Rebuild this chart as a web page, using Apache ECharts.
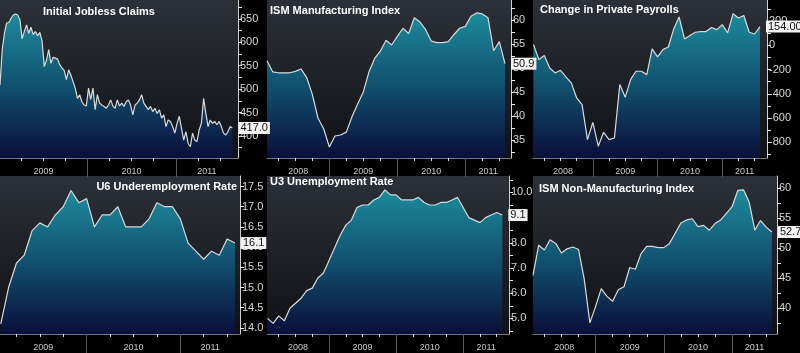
<!DOCTYPE html>
<html>
<head>
<meta charset="utf-8">
<script src="https://cdn.jsdelivr.net/npm/echarts@6/dist/echarts.min.js"></script>
<style>
html,body{margin:0;padding:0;background:#000}
#main{width:800px;height:353px}
</style>
</head>
<body>
<div id="main"></div>
<script>
// x positions are months counted from 1 Jan 2008, a monthly print sits at its month end
var claims = [509,584,619,641,642,651,658,660,658,648,607,623,637,619,632,616,623,614,621,603,
  548,562,584,555,568,566,564,552,545,540,520,541,530,516,502,480,488,473,466,464,
  502,478,502,456,488,470,466,463,459,466,477,464,459,477,464,470,463,473,477,466,
  445,466,470,477,488,470,463,456,463,452,459,448,456,438,445,420,434,431,420,406,
  427,442,416,391,409,384,377,406,391,388,413,427,480,448,420,434,427,431,424,431,
  420,406,402,409,420,417]
var claimsFrom = 12.18, claimsTo = 43.67 // weekly, early Jan 2009 .. Aug 2011

// Jan 2008 .. Jul 2011
var ismMfg = [51.5,49.2,49.0,49.0,49.0,49.3,49.8,48.0,44.5,39.5,37.3,33.5,
  35.8,36.0,36.6,39.8,42.5,45.0,49.2,52.0,53.5,55.8,54.8,56.6,
  58.3,57.2,60.5,59.6,58.0,55.6,55.3,55.3,55.5,57.0,58.3,58.7,
  60.8,61.5,61.3,60.5,53.6,55.5,50.9]
var payrolls = [5,-118,-85,-187,-228,-206,-260,-310,-434,-489,-777,-635,
  -832,-717,-777,-764,-324,-429,-283,-214,-214,-242,-30,-96,
  -36,-14,135,233,52,80,107,113,113,146,129,170,
  102,261,225,245,107,93,154]
// Jan 2009 .. Jul 2011
var u6 = [14.1,15.0,15.6,15.8,16.4,16.6,16.5,16.8,17.0,17.4,17.1,17.2,
  16.5,16.8,16.8,17.0,16.5,16.5,16.5,16.7,17.1,17.0,17.0,16.7,
  16.1,15.9,15.7,15.9,15.8,16.2,16.1]
// Jan 2008 .. Jul 2011
var u3 = [5.0,4.8,5.1,4.9,5.4,5.6,5.8,6.1,6.2,6.6,6.8,7.3,
  7.8,8.3,8.7,8.9,9.4,9.5,9.5,9.7,9.8,10.1,9.9,9.9,
  9.7,9.7,9.7,9.8,9.6,9.5,9.5,9.6,9.6,9.7,9.8,9.4,
  9.0,8.9,8.8,9.0,9.1,9.2,9.1]
var ismNonMfg = [45.5,50.5,49.7,51.4,50.8,49.2,49.9,50.2,49.8,44.9,37.6,40.3,
  43.3,42.0,41.2,43.1,43.6,46.8,46.5,49.1,50.3,50.3,50.1,50.1,
  50.8,52.5,54.2,54.7,54.9,53.6,53.8,53.0,54.1,54.7,55.8,56.9,
  59.6,59.7,57.7,53.0,54.6,53.5,52.7]

var titles = ['Initial Jobless Claims', 'ISM Manufacturing Index', 'Change in Private Payrolls',
  'U6 Underemployment Rate', 'U3 Unemployment Rate', 'ISM Non-Manufacturing Index']

// y tick labels (major) and in-between ticks
var ticks1 = [400,450,500,550,600,650], minor1 = [375,425,475,525,575,625,675]
var ticks2 = [35,40,45,50,55,60], minor2 = [32.5,37.5,42.5,47.5,52.5,57.5,62.5]
var ticks3 = [-800,-600,-400,-200,0,200], minor3 = [-900,-700,-500,-300,-100,100,300]
var ticks4 = [14.0,14.5,15.0,15.5,16.0,16.5,17.0,17.5], minor4 = []
var ticks5 = [5,6,7,8,9,10], minor5 = [4.5,5.5,6.5,7.5,8.5,9.5,10.5]
var ticks6 = [40,45,50,55,60], minor6 = [37.5,42.5,47.5,52.5,57.5,62.5]

function monthly(arr, first) {
  return arr.map(function (v, i) { return [first + i, v] })
}
function spread(arr, a, b) {
  var step = (b - a) / (arr.length - 1)
  return arr.map(function (v, i) { return [a + i * step, v] })
}

var panels = [
  {data: spread(claims, claimsFrom, claimsTo), ticks: ticks1, minor: minor1, dec: 0, endDec: 1,
   grid: {left: 0, top: 0, width: 238, height: 158}, x: [12.18, 44.43], y: [353, 690],
   title: {left: 43, top: 6}},
  {data: monthly(ismMfg, 1), ticks: ticks2, minor: minor2, dec: 0, endDec: 1,
   grid: {left: 267, top: 0, width: 244, height: 158}, x: [1, 44.06], y: [31.2, 64.2],
   title: {left: 270, top: 5}},
  {data: monthly(payrolls, 1), ticks: ticks3, minor: minor3, dec: 0, endDec: 2,
   grid: {left: 533, top: 0, width: 234, height: 158}, x: [0.9, 44.3], y: [-929, 373],
   title: {left: 540, top: 4}},
  {data: monthly(u6, 13), ticks: ticks4, minor: minor4, dec: 1, endDec: 1,
   grid: {left: 0, top: 176, width: 240, height: 158}, x: [12.9, 43.65], y: [13.85, 17.76],
   title: {right: 563, top: 181}},
  {data: monthly(u3, 1), ticks: ticks5, minor: minor5, dec: 1, endDec: 1,
   grid: {left: 267, top: 176, width: 242, height: 158}, x: [0.9, 44.2], y: [4.38, 10.65],
   title: {left: 270, top: 176}},
  {data: monthly(ismNonMfg, 1), ticks: ticks6, minor: minor6, dec: 0, endDec: 1,
   grid: {left: 533, top: 176, width: 244, height: 158}, x: [1.0, 43.9], y: [35.75, 62.0],
   title: {left: 539, top: 183}}
]

var plotBg = new echarts.graphic.LinearGradient(0, 0, 0, 1, [
  {offset: 0, color: '#2c3038'}, {offset: 1, color: '#0f1115'}])
var fill = new echarts.graphic.LinearGradient(0, 0, 0, 1, [
  {offset: 0, color: '#1d8b9c'}, {offset: 0.5, color: '#11506f'}, {offset: 1, color: '#0a0e3a'}])

var option = {backgroundColor: '#000', animation: false, title: [], grid: [], xAxis: [], yAxis: [], series: []}

panels.forEach(function (p, i) {
  var t = {text: titles[i], top: p.title.top, padding: 0,
    textStyle: {color: '#fff', fontSize: 11, fontWeight: 'bold', fontFamily: 'Liberation Sans, Arial'}}
  if (p.title.left != null) t.left = p.title.left; else t.right = p.title.right
  option.title.push(t)

  option.grid.push(Object.assign({show: true, backgroundColor: plotBg, borderWidth: 0,
    containLabel: false, outerBoundsMode: 'none'}, p.grid))

  // year centres of the visible part, year starts and quarter starts
  var centres = [], starts = [], quarters = []
  for (var y = 0; y < 4; y++) {
    var a = Math.max(p.x[0], y * 12), b = Math.min(p.x[1], y * 12 + 12)
    if (b - a > 2) centres.push((a + b) / 2)
    if (y * 12 > p.x[0] && y * 12 < p.x[1]) starts.push(y * 12)
    for (var q = 3; q < 12; q += 3) {
      if (y * 12 + q > p.x[0] && y * 12 + q < p.x[1]) quarters.push(y * 12 + q)
    }
  }
  option.xAxis.push({type: 'value', gridIndex: i, min: p.x[0], max: p.x[1], position: 'bottom',
    axisLine: {show: true, onZero: false, lineStyle: {color: '#777', width: 1}},
    axisTick: {show: true, customValues: quarters, length: 3, lineStyle: {color: '#ddd'}},
    axisLabel: {customValues: centres, margin: 9, color: '#c8c8c8', fontSize: 9,
      fontFamily: 'Liberation Sans, Arial',
      formatter: function (v) { return String(2008 + Math.floor(v / 12)) }},
    splitLine: {show: false}})
  option.xAxis.push({type: 'value', gridIndex: i, min: p.x[0], max: p.x[1], position: 'bottom',
    axisLine: {show: false, onZero: false},
    axisTick: {show: true, customValues: starts, length: 19, lineStyle: {color: '#5a5a5a'}},
    axisLabel: {show: false}, splitLine: {show: false}})

  option.yAxis.push({type: 'value', gridIndex: i, position: 'right', min: p.y[0], max: p.y[1],
    axisLine: {show: true, lineStyle: {color: '#cfcfcf'}},
    axisTick: {show: true, customValues: p.ticks.concat(p.minor), length: 4, lineStyle: {color: '#eee'}},
    axisLabel: {customValues: p.ticks, margin: 2, color: '#d8d8d8', fontSize: 11,
      fontFamily: 'Liberation Sans, Arial',
      formatter: function (v) { return v.toFixed(p.dec) }},
    splitLine: {show: false}})

  option.series.push({type: 'line', xAxisIndex: i * 2, yAxisIndex: i, data: p.data,
    showSymbol: false, lineStyle: {color: '#d9d9d9', width: 1.2},
    areaStyle: {color: fill, origin: 'start', opacity: 1},
    endLabel: {show: true, distance: 6, color: '#111', backgroundColor: '#f2f2f2',
      padding: [1, 2, 0, 2], fontSize: 11, fontFamily: 'Liberation Sans, Arial',
      formatter: function (q) { return q.value[1].toFixed(p.endDec) }}})
})

var chart = echarts.init(document.getElementById('main'))
chart.setOption(option)
</script>
</body>
</html>
